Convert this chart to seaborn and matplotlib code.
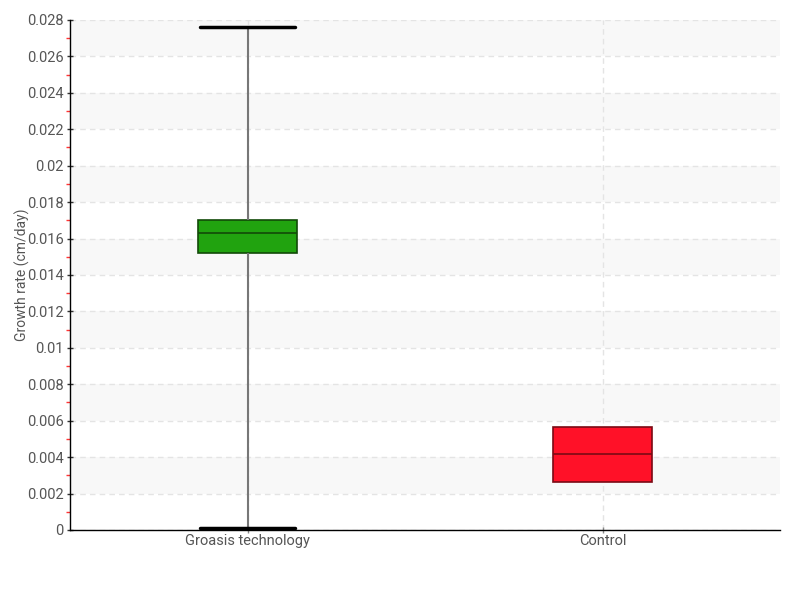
import numpy as np
import pandas as pd
import seaborn as sns
import matplotlib
matplotlib.use("Agg")
import matplotlib.pyplot as plt
from matplotlib.ticker import MultipleLocator, FuncFormatter

categories = ["Groasis technology", "Control"]
# five-number summaries (min, q1, median, q3, max)
groasis = [0.0001, 0.0152, 0.0163, 0.0170, 0.0276]
control = [0.00264, 0.00264, 0.00417, 0.00565, 0.00565]
colors = ["#21a30f", "#ff1128"]
edge_colors = ["#124a08", "#7a0a14"]

df = pd.DataFrame({
    "group": [categories[0]] * len(groasis) + [categories[1]] * len(control),
    "rate": groasis + control,
})

sns.set_theme(style="white")
plt.rcParams['font.family'] = ['Roboto', 'DejaVu Sans']

fig = plt.figure(figsize=(8, 6), dpi=100)
ax = fig.add_axes([0.0875, 0.1167, 0.8875, 0.85])

# alternating bands
for lo in np.arange(0.002, 0.028, 0.004):
    ax.axhspan(lo, lo + 0.002, color="#f8f8f8", zorder=0, lw=0)

box_w = 0.28
sns.boxplot(data=df, x="group", y="rate", hue="group", palette=colors, legend=False,
            order=categories, whis=(0, 100), width=box_w, saturation=1, ax=ax,
            whiskerprops=dict(color="#777777", lw=1.5),
            capprops=dict(color="black", lw=2.5),
            linewidth=1.2)

for i, c in enumerate(ax.containers):
    for b in c.boxes:
        b.set_edgecolor(edge_colors[i])
    for m in c.medians:
        m.set_color(edge_colors[i])
    for w in c.whiskers:
        w.set_color("#777777")
    for cap in c.caps:
        cap.set_color("black")
        cap.set_linewidth(2.5)
        cap.set_xdata([i - 0.135, i + 0.135])
    if i == 1:
        for cap in c.caps:
            cap.set_visible(False)
        for w in c.whiskers:
            w.set_visible(False)

ax.set_xlim(-0.5, 1.5)
ax.set_ylim(0, 0.028)
ax.yaxis.set_major_locator(MultipleLocator(0.002))
ax.yaxis.set_minor_locator(MultipleLocator(0.001))
ax.yaxis.set_major_formatter(FuncFormatter(lambda v, p: "0" if abs(v) < 1e-12 else f"{v:.3f}".rstrip("0")))

ax.grid(True, axis="y", which="major", ls=(0, (4, 3)), color="#e4e4e4", lw=1)
ax.grid(True, axis="x", which="major", ls=(0, (4, 3)), color="#e4e4e4", lw=1)
ax.set_axisbelow(True)

for s in ["top", "right"]:
    ax.spines[s].set_visible(False)
for s in ["left", "bottom"]:
    ax.spines[s].set_color("black")
    ax.spines[s].set_linewidth(1)

ax.tick_params(axis="y", which="major", direction="inout", length=5, width=1, color="#333333",
               labelsize=10.5, labelcolor="#555555", left=True, pad=2)
ax.tick_params(axis="y", which="minor", direction="out", length=3, width=1, color="#ff3333", left=True)
ax.tick_params(axis="x", which="major", direction="inout", length=4, width=1, color="#888888",
               labelsize=10.5, labelcolor="#555555", bottom=True, pad=1)

ax.set_xlabel("")
ax.set_ylabel("Growth rate (cm/day)", fontsize=10, color="#555555")
ax.yaxis.set_label_coords(-0.057, 0.5)

fig.savefig("out.png", dpi=100)
